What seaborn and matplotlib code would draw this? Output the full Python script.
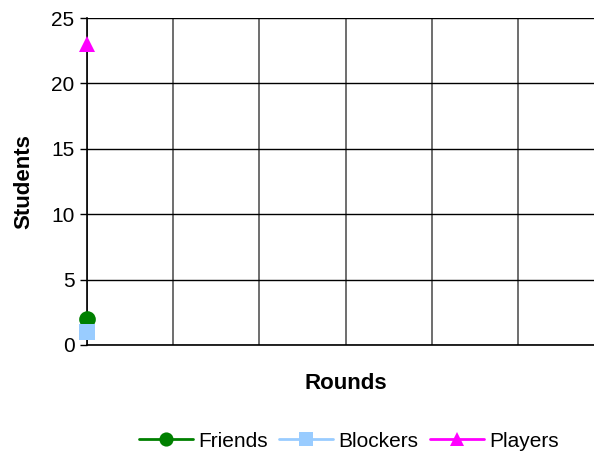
import numpy as np
import pandas as pd
import seaborn as sns
import matplotlib
matplotlib.use("Agg")
import matplotlib.pyplot as plt

# values (only round 0 has data)
rounds = [0]
friends = [2]
blockers = [1]
players = [23]

series_names = ["Friends", "Blockers", "Players"]
series_colors = ["#008000", "#99CCFF", "#FF00FF"]
series_markers = ["o", "s", "^"]
y_ticks = [0, 5, 10, 15, 20, 25]

df = pd.DataFrame({
    "Rounds": rounds * 3,
    "Students": friends + blockers + players,
    "series": ["Friends"] * len(rounds) + ["Blockers"] * len(rounds) + ["Players"] * len(rounds),
})

sns.set_style("white")
plt.rcParams["font.family"] = ["Liberation Sans", "DejaVu Sans"]

fig = plt.figure(figsize=(5.94, 4.54), dpi=100)
ax = fig.add_axes([87 / 594, 1 - 345 / 454, 517 / 594, 327 / 454])

for name, col, mk in zip(series_names, series_colors, series_markers):
    sub = df[df["series"] == name]
    sns.lineplot(data=sub, x="Rounds", y="Students", ax=ax, color=col,
                 marker=mk, markersize=12, markeredgewidth=0, linewidth=2,
                 label=name, clip_on=False, zorder=5)

ax.set_xlim(0, 6)
ax.set_ylim(0, 25)
ax.set_yticks(y_ticks)
ax.set_xticks(range(0, 7))
ax.set_xticklabels([])
ax.tick_params(axis="x", length=0)
ax.tick_params(axis="y", length=5, width=1, color="black", direction="out",
               labelsize=15, pad=4, left=True, labelcolor="black")
ax.grid(axis="y", color="black", linewidth=1)
ax.grid(axis="x", color="#555555", linewidth=1.2)
for s in ["top", "right"]:
    ax.spines[s].set_visible(False)
ax.spines["left"].set_color("black")
ax.spines["bottom"].set_color("black")
ax.spines["left"].set_linewidth(1.2)
ax.spines["bottom"].set_linewidth(1.2)

ax.set_ylabel("Students", fontsize=16, fontweight="bold", labelpad=12, color="black")
ax.set_xlabel("Rounds", fontsize=16, fontweight="bold", labelpad=17, color="black")

handles, labels = ax.get_legend_handles_labels()
ax.get_legend().remove()
leg = fig.legend(handles, labels, loc="center", bbox_to_anchor=(0.587, 0.028),
                 ncol=3, frameon=False, fontsize=15, handlelength=2.6,
                 handletextpad=0.25, columnspacing=0.55, markerscale=0.85)
for t in leg.get_texts():
    t.set_color("black")

fig.savefig("out.png", dpi=100)
